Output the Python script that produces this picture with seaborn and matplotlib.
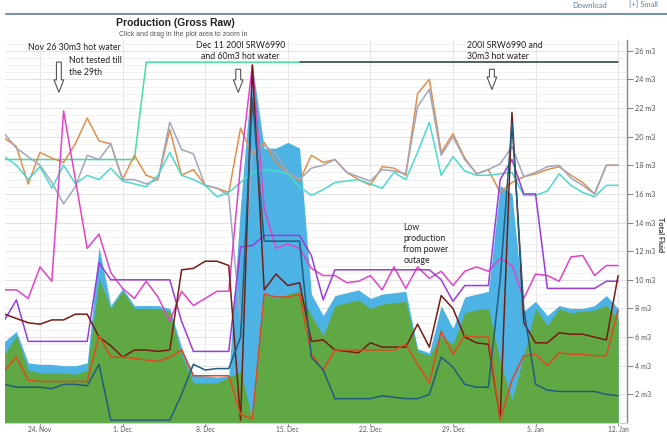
import pandas as pd
import seaborn as sns
import numpy as np
import matplotlib.pyplot as plt
from matplotlib.ticker import MultipleLocator, FixedLocator
from matplotlib.lines import Line2D

# daily values, 21 Nov .. 12 Jan
days = pd.date_range('2014-11-21', periods=53, freq='D')

oil = [4.8, 6.1, 3.7, 3.5, 3.5, 3.5, 3.4, 3.7, 10.1, 8.0, 9.2, 8.0, 8.0, 8.0, 7.8, 4.7, 2.8, 2.8,
       2.8, 3.2, 3.6, 0.2, 9.0, 8.7, 9.0, 9.2, 7.5, 6.1, 8.2, 8.4, 8.6, 8.0, 8.3, 8.4, 8.5, 5.0,
       4.7, 6.1, 5.5, 7.7, 7.9, 8.0, 4.3, 1.6, 4.7, 8.0, 6.8, 8.0, 7.7, 7.8, 7.9, 8.2, 7.3]
gross = [5.7, 6.4, 4.2, 4.1, 4.1, 4.0, 4.0, 4.2, 12.3, 8.2, 9.4, 8.2, 8.2, 8.2, 8.0, 5.3, 3.4, 3.3,
         3.2, 3.3, 15.2, 25.0, 19.2, 19.2, 19.6, 19.2, 9.0, 7.5, 8.9, 9.1, 9.3, 8.7, 9.0, 9.1, 9.2, 5.2,
         4.9, 8.2, 6.6, 8.8, 9.0, 9.2, 16.6, 16.0, 7.8, 8.5, 7.5, 8.2, 8.0, 8.0, 8.2, 8.9, 8.0]

orange = [19.9, 19.3, 16.7, 18.9, 18.5, 18.2, 19.5, 21.3, 19.7, 19.5, 17.0, 18.7, 17.3, 17.0, 20.5, 17.3, 17.7, 16.6,
          16.4, 16.1, 20.6, 18.7, 19.6, 18.2, 17.5, 16.9, 18.7, 18.2, 18.4, 17.5, 17.0, 16.6, 17.9, 17.8, 17.3, 23.0,
          24.0, 18.9, 20.2, 18.5, 17.4, 17.7, 16.1, 16.8, 17.2, 17.4, 17.7, 17.9, 17.3, 16.8, 16.0, 18.0, 18.0]
grey = [20.2, 19.2, 18.6, 18.0, 16.8, 15.3, 16.5, 18.7, 18.4, 19.5, 17.0, 17.0, 16.7, 17.0, 21.0, 19.1, 18.8, 16.6,
        16.4, 15.9, 7.0, 19.0, 19.4, 18.8, 17.5, 17.0, 17.8, 18.0, 18.4, 17.5, 17.2, 16.9, 17.7, 17.6, 17.4, 22.1,
        23.3, 18.7, 20.0, 18.4, 17.4, 17.7, 18.1, 19.3, 17.2, 17.5, 17.9, 18.0, 17.1, 16.6, 16.0, 18.0, 18.0]
turquoise = [18.6, 18.0, 17.0, 17.9, 16.4, 18.0, 16.7, 17.3, 17.0, 17.8, 16.9, 16.7, 16.5, 17.3, 18.9, 17.3, 17.0, 16.6,
             15.8, 16.1, 16.8, 17.5, 17.7, 17.6, 17.4, 16.5, 15.9, 16.3, 16.8, 16.9, 17.0, 16.7, 16.4, 17.5, 17.0, 18.9,
             21.0, 17.3, 18.6, 17.6, 17.3, 17.3, 17.4, 17.5, 15.9, 15.9, 16.2, 17.4, 16.6, 16.1, 15.8, 16.6, 16.6]
mint = [18.4] * 12 + [25.2] * 14 + [np.nan] * 27
dark_top = [np.nan] * 25 + [25.2] * 28
magenta = [9.3, 9.3, 8.7, 10.9, 9.9, 21.8, 17.0, 12.2, 13.2, 10.5, 9.4, 8.7, 9.9, 8.8, 7.1, 9.2, 8.2, 8.7,
           9.2, 9.2, 18.0, 25.0, 15.0, 12.2, 12.5, 12.2, 10.8, 10.3, 10.3, 9.8, 9.9, 10.3, 9.3, 10.9, 9.4, 10.9,
           10.1, 10.6, 9.6, 10.6, 10.9, 10.6, 11.5, 11.0, 8.7, 10.4, 10.3, 9.9, 11.6, 11.7, 10.3, 11.0, 11.0]
purple = [7.2, 8.6, 5.7, 5.7, 5.7, 5.7, 5.7, 5.7, 11.2, 10.0, 10.0, 10.0, 10.0, 10.0, 10.0, 7.1, 5.0, 5.0,
          5.0, 5.0, 12.3, 12.4, 13.1, 13.1, 13.1, 13.1, 11.7, 8.6, 10.7, 10.7, 10.7, 10.7, 10.7, 10.7, 10.7, 10.7,
          10.7, 10.0, 8.5, 9.6, 9.6, 9.6, 17.0, 18.4, 16.0, 16.0, 9.4, 9.4, 9.4, 9.4, 9.4, 9.9, 9.9]
maroon = [7.6, 7.3, 7.0, 6.9, 7.2, 7.2, 7.6, 7.6, 6.0, 5.4, 4.6, 5.1, 5.1, 5.0, 5.1, 10.7, 10.8, 11.3,
          11.3, 11.0, 0.2, 25.0, 9.3, 10.4, 9.6, 9.8, 5.7, 5.8, 5.1, 5.0, 4.9, 5.6, 5.3, 5.3, 5.3, 6.9,
          5.3, 8.9, 8.0, 6.0, 5.6, 5.5, 0.3, 21.7, 7.0, 5.6, 5.6, 6.3, 6.2, 6.2, 6.0, 5.8, 10.3]
red = [3.7, 4.6, 3.0, 2.9, 2.9, 2.9, 2.9, 2.9, 6.1, 4.6, 4.6, 4.5, 4.4, 4.3, 4.6, 5.1, 3.3, 3.3,
       3.3, 3.3, 0.6, 0.3, 9.0, 8.8, 8.8, 9.0, 4.8, 3.7, 5.1, 5.1, 5.1, 5.1, 5.1, 5.1, 5.5, 4.1,
       2.8, 6.4, 4.8, 6.1, 6.0, 6.0, 0.2, 3.0, 4.7, 4.8, 4.0, 4.9, 4.8, 4.8, 4.7, 4.7, 7.9]
teal = [2.7, 2.5, 2.5, 2.5, 2.4, 2.7, 2.7, 2.6, 4.1, 0.2, 0.2, 0.2, 0.2, 0.2, 0.2, 2.0, 4.1, 3.7,
        3.8, 3.8, 6.0, 22.7, 12.7, 12.7, 12.7, 12.7, 4.6, 3.7, 1.7, 1.7, 1.7, 1.7, 1.9, 1.8, 1.7, 1.7,
        2.0, 4.6, 3.9, 2.7, 2.5, 2.5, 10.0, 21.0, 8.0, 2.7, 2.3, 2.2, 2.2, 2.2, 2.2, 2.0, 1.9]

tick_dates = pd.to_datetime(['2014-11-24', '2014-12-01', '2014-12-08', '2014-12-15',
                             '2014-12-22', '2014-12-29', '2015-01-05', '2015-01-12'])
tick_labels = ['24. Nov', '1. Dec', '8. Dec', '15. Dec', '22. Dec', '29. Dec', '5. Jan', '12. Jan']

series = {'mint': mint, 'dark': dark_top, 'orange': orange, 'grey': grey, 'turquoise': turquoise,
          'magenta': magenta, 'purple': purple, 'maroon': maroon, 'red': red, 'teal': teal}
palette = {'mint': '#44dea4', 'dark': '#1f3a2c', 'orange': '#e08f4c', 'grey': '#a2a6bc',
           'turquoise': '#4cd9cb', 'magenta': '#e043c6', 'purple': '#9b3bd9', 'maroon': '#761b12',
           'red': '#e0491f', 'teal': '#215d7c'}

long = pd.concat([pd.DataFrame({'date': days, 'value': v, 'series': k}) for k, v in series.items()])
long = long.dropna()

sns.set_style('white')
plt.rcParams['font.family'] = ['Lato', 'DejaVu Sans']

fig = plt.figure(figsize=(6.67, 4.34), dpi=100)
ax = fig.add_axes([4.6 / 667, 11 / 434, (627 - 4.6) / 667, (423 - 40) / 434])

ax.fill_between(days, 0, gross, color='#4cb3e4', lw=0, zorder=1)
ax.fill_between(days, 0, oil, color='#60a843', lw=0, zorder=2)

sns.lineplot(data=long, x='date', y='value', hue='series', palette=palette,
             hue_order=list(series.keys()), legend=False, linewidth=1.1,
             estimator=None, ax=ax, zorder=3)

ax.set_xlim(days[0], days[0] + pd.Timedelta(days=52.75))
ax.set_ylim(0, 26.75)

ax.yaxis.tick_right()
ax.yaxis.set_major_locator(FixedLocator(np.arange(2, 27, 2)))
ax.set_yticklabels([f'{v} m3' for v in range(2, 27, 2)])
ax.yaxis.set_minor_locator(MultipleLocator(0.5))
ax.set_xticks(tick_dates)
ax.set_xticklabels(tick_labels)
ax.tick_params(axis='y', which='major', right=True, length=4, width=0.8, color='#888888',
               labelsize=5.2, labelcolor='#555555', pad=2)
ax.tick_params(axis='y', which='minor', right=False)
ax.tick_params(axis='x', bottom=True, length=2, width=0.8, color='#999999',
               labelsize=4.8, labelcolor='#555555', pad=0.5)

ax.grid(axis='y', which='minor', color='#efefef', lw=0.6, zorder=0)
ax.grid(axis='y', which='major', color='#e2e2e2', lw=0.7, zorder=0)
ax.grid(axis='x', which='major', color='#e6e6e6', lw=0.8, zorder=0)
ax.axhline(14, color='#d4d4d4', lw=0.8, zorder=0)

for s in ['top', 'left']:
    ax.spines[s].set_visible(False)
ax.spines['right'].set_color('#888888')
ax.spines['right'].set_linewidth(1.0)
ax.spines['bottom'].set_color('#c8d4e0')
ax.set_xlabel('')
ax.set_ylabel('')
fig.text(661 / 667, 1 - 235 / 434, 'Total Fluid', rotation=270, ha='center', va='center',
         fontsize=5.3, fontweight='bold', color='#333333')

# notes on the chart
note_kw = dict(fontsize=6.3, color='#222222', clip_on=False, zorder=5)
ax.text(days[0] + pd.Timedelta(days=2.0), 26.2, 'Nov 26 30m3 hot water', va='center', **note_kw)
ax.text(days[0] + pd.Timedelta(days=5.5), 24.9, 'Not tested till\nthe 29th', va='center',
        linespacing=1.3, **note_kw)
ax.text(days[0] + pd.Timedelta(days=20.0), 26.0, 'Dec 11 200l SRW6990\nand 60m3 hot water',
        va='center', ha='center', linespacing=1.3, **note_kw)
ax.text(days[0] + pd.Timedelta(days=39.2), 26.0, '200l SRW6990 and\n30m3 hot water',
        va='center', linespacing=1.3, **note_kw)
ax.text(days[0] + pd.Timedelta(days=33.8), 12.5, 'Low\nproduction\nfrom power\noutage',
        va='center', linespacing=1.3, **note_kw)

for d, y0, y1 in [(4.6, 25.4, 22.9), (19.8, 24.9, 22.9), (41.3, 24.9, 23.1)]:
    xd = days[0] + pd.Timedelta(days=d)
    ax.annotate('', xy=(xd, y1), xytext=(xd, y0),
                arrowprops=dict(arrowstyle='simple,head_length=0.9,head_width=0.7,tail_width=0.35',
                                fc='white', ec='#555555', lw=0.8), zorder=6)

fig.text(175 / 667, 1 - 23 / 434, 'Production (Gross Raw)', ha='center', va='center',
         fontsize=7.5, fontweight='bold', color='#222222', family=['Liberation Sans', 'DejaVu Sans'])
fig.text(183 / 667, 1 - 35 / 434, 'Click and drag in the plot area to zoom in', ha='center',
         va='center', fontsize=5, color='#555555', family=['Liberation Sans', 'DejaVu Sans'])
fig.text(590 / 667, 1 - 5 / 434, 'Download', ha='center', va='center', fontsize=5.5, color='#5a7fa8')
fig.text(643 / 667, 1 - 5 / 434, '[+] Small', ha='center', va='center', fontsize=5.5, color='#5a7fa8')
fig.add_artist(Line2D([6 / 667, 1], [1 - 14 / 434, 1 - 14 / 434], color='#6f8fb2', lw=1.4,
                      transform=fig.transFigure))

fig.savefig('out.png', dpi=100)
